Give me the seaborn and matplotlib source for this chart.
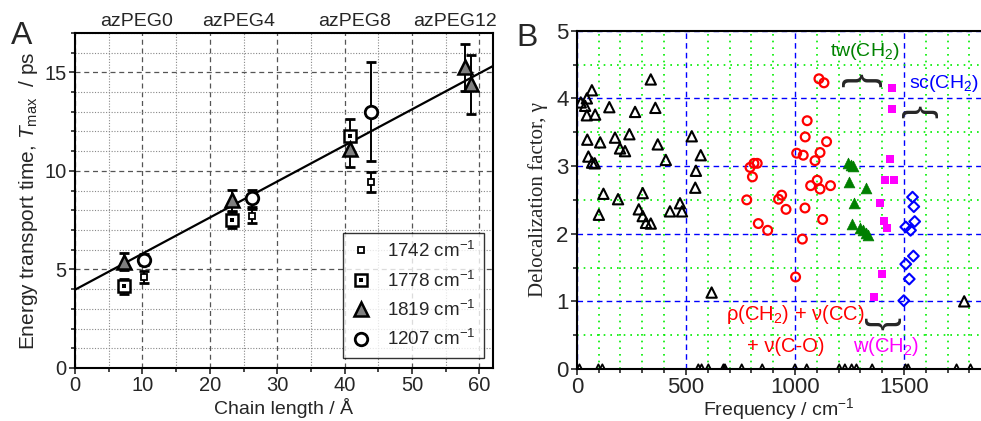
import numpy as np
import matplotlib
matplotlib.use("Agg")
import matplotlib.pyplot as plt
import seaborn as sns
from matplotlib.ticker import MultipleLocator
from matplotlib.legend_handler import HandlerTuple

sns.set_style("ticks")
plt.rcParams["font.family"] = ["Liberation Sans", "DejaVu Sans"]
plt.rcParams["mathtext.fontset"] = "custom"
plt.rcParams["mathtext.rm"] = "Liberation Sans"
plt.rcParams["mathtext.it"] = "Liberation Sans:italic"

# ---- panel A data: chain length (A), T_max (ps), error (ps)
x_1742 = [10.2, 26.3, 43.9]
y_1742 = [4.6, 7.7, 9.45]
e_1742 = [0.3, 0.37, 0.5]

x_1778 = [7.3, 23.3, 40.8]
y_1778 = [4.15, 7.5, 11.75]
e_1778 = [0.38, 0.4, 0.88]

x_1819 = [7.3, 23.3, 40.8, 57.9, 58.7]
y_1819 = [5.4, 8.5, 11.1, 15.25, 14.4]
e_1819 = [0.42, 0.55, 0.9, 1.2, 1.5]

x_1207 = [10.2, 26.3, 43.9]
y_1207 = [5.5, 8.6, 13.0]
e_1207 = [0.3, 0.45, 2.5]

fit_intercept = 3.97
fit_slope = 0.183

peg_names = ["azPEG0", "azPEG4", "azPEG8", "azPEG12"]
peg_pos = [9.1, 24.2, 41.5, 56.3]

# ---- panel B data: frequency (cm-1), delocalization factor
tri_f = [18, 38, 46, 69, 46, 84, 149, 267, 339, 360, 48, 107, 175, 241, 198,
         221, 371, 408, 53, 70, 82, 527, 568, 546, 543, 122, 189, 302, 101,
         284, 302, 317, 339, 427, 473, 482, 618, 1776]
tri_g = [3.94, 3.89, 4.00, 4.12, 3.75, 3.76, 3.87, 3.80, 4.28, 3.86, 3.39,
         3.35, 3.42, 3.47, 3.26, 3.22, 3.32, 3.09, 3.14, 3.05, 3.04, 3.44,
         3.16, 2.93, 2.68, 2.59, 2.51, 2.60, 2.28, 2.36, 2.26, 2.16, 2.15,
         2.33, 2.45, 2.33, 1.13, 1.00]

zero_f = [12, 99, 117, 557, 572, 603, 672, 679, 756, 850, 1000, 1054, 1203,
          1229, 1260, 1282, 1354, 1507, 1519, 1741, 1805]
zero_g = [0.0] * len(zero_f)

rho_f = [779, 794, 812, 827, 805, 832, 875, 925, 939, 959, 1003, 1008, 1038,
         1034, 1047, 1056, 1046, 1072, 1092, 1102, 1115, 1115, 1110, 1133,
         1145, 1127, 1163]
rho_g = [2.50, 2.98, 3.04, 3.04, 2.84, 2.15, 2.05, 2.51, 2.57, 2.36, 1.36,
         3.19, 3.16, 1.92, 3.43, 3.67, 2.38, 2.71, 3.08, 2.79, 3.20, 2.66,
         4.29, 4.23, 3.36, 2.21, 2.71]

tw_f = [1244, 1255, 1264, 1249, 1270, 1260, 1324, 1298, 1313, 1328, 1337]
tw_g = [3.04, 3.02, 3.00, 2.76, 2.46, 2.14, 2.67, 2.09, 2.05, 2.01, 1.98]

w_f = [1447, 1444, 1437, 1412, 1452, 1389, 1409, 1423, 1398, 1362]
w_g = [4.16, 3.84, 3.11, 2.79, 2.80, 2.45, 2.19, 2.08, 1.40, 1.07]

sc_f = [1499, 1508, 1524, 1543, 1508, 1530, 1549, 1539, 1545]
sc_g = [1.01, 1.55, 1.33, 1.67, 2.10, 2.05, 2.18, 2.54, 2.40]

fig = plt.figure(figsize=(9.81, 4.21), dpi=100)
axA = fig.add_axes([0.0765, 0.126, 0.426, 0.796])
axB = fig.add_axes([0.588, 0.1235, 0.412, 0.8035])

# ================= Panel A =================
xs = np.array([0.0, 62.0])
sns.lineplot(x=xs, y=fit_intercept + fit_slope * xs, color="black", lw=1.6, ax=axA, zorder=2)

eb = dict(fmt="none", ecolor="black", elinewidth=1.4, capsize=3.5, capthick=2.0, zorder=3)
axA.errorbar(x_1742, y_1742, yerr=e_1742, **eb)
axA.errorbar(x_1778, y_1778, yerr=e_1778, **eb)
axA.errorbar(x_1819, y_1819, yerr=e_1819, **eb)
axA.errorbar(x_1207, y_1207, yerr=e_1207, **eb)

h1742 = axA.plot(x_1742, y_1742, ls="none", marker="s", ms=5, mfc="white",
                 mec="black", mew=1.3, zorder=4)[0]
h1778a = axA.plot(x_1778, y_1778, ls="none", marker="s", ms=8, mfc="white",
                  mec="black", mew=1.8, zorder=4)[0]
h1778b = axA.plot(x_1778, y_1778, ls="none", marker="s", ms=2.2, mfc="black",
                  mec="black", mew=0, zorder=5)[0]
h1819 = axA.plot(x_1819, y_1819, ls="none", marker="^", ms=10, mfc="#7f7f7f",
                 mec="black", mew=1.8, zorder=4)[0]
h1207 = axA.plot(x_1207, y_1207, ls="none", marker="o", ms=9, mfc="white",
                 mec="black", mew=2.0, zorder=4)[0]

axA.set_xlim(0, 62)
axA.set_ylim(0, 17)
axA.xaxis.set_major_locator(MultipleLocator(10))
axA.xaxis.set_minor_locator(MultipleLocator(5))
axA.yaxis.set_major_locator(MultipleLocator(5))
axA.yaxis.set_minor_locator(MultipleLocator(1))
axA.grid(which="major", color="#555555", ls=(0, (4, 3)), lw=0.9)
axA.grid(which="minor", color="#888888", ls=(0, (1, 1.5)), lw=0.8)
axA.set_axisbelow(True)
axA.tick_params(which="both", direction="out", labelsize=14.5, width=1.2,
                top=False, right=False, pad=2)
axA.tick_params(which="major", length=4)
axA.tick_params(which="minor", length=3)
for s in axA.spines.values():
    s.set_linewidth(1.5)
    s.set_color("black")
    s.set_visible(True)
axA.set_xlabel("Chain length / Å", fontsize=14)
axA.xaxis.set_label_coords(0.5, -0.09)
axA.set_ylabel("Energy transport time, $T_{\\rm max}$  / ps", fontsize=15, labelpad=3)

for name, pos in zip(peg_names, peg_pos):
    axA.text(pos, 1.008, name, transform=axA.get_xaxis_transform(), ha="center",
             va="bottom", fontsize=14)

leg = axA.legend([h1742, (h1778a, h1778b), h1819, h1207],
                 ["1742 cm$^{-1}$", "1778 cm$^{-1}$", "1819 cm$^{-1}$", "1207 cm$^{-1}$"],
                 handler_map={tuple: HandlerTuple(ndivide=1, pad=0)},
                 loc="lower right", bbox_to_anchor=(0.978, 0.03), borderaxespad=0,
                 fontsize=13.5, frameon=True, fancybox=False, handlelength=1.0,
                 handletextpad=0.9, labelspacing=0.5, borderpad=0.45)
leg.get_frame().set_edgecolor("black")
leg.get_frame().set_linewidth(1.0)

fig.text(0.022, 0.915, "A", fontsize=23, ha="center", va="center")

# ================= Panel B =================
sns.scatterplot(x=tri_f, y=tri_g, marker="^", s=55, facecolor="none",
                edgecolor="black", linewidth=1.5, ax=axB, zorder=3)
sns.scatterplot(x=zero_f, y=zero_g, marker="^", s=45, facecolor="none",
                edgecolor="black", linewidth=1.3, ax=axB, zorder=3)
sns.scatterplot(x=rho_f, y=rho_g, marker="o", s=40, facecolor="none",
                edgecolor="#ff0000", linewidth=1.6, ax=axB, zorder=3)
sns.scatterplot(x=tw_f, y=tw_g, marker="^", s=60, color="#007f00",
                edgecolor="#007f00", linewidth=0.5, ax=axB, zorder=3)
sns.scatterplot(x=w_f, y=w_g, marker="s", s=28, color="#ff00ff",
                edgecolor="#ff00ff", linewidth=0, ax=axB, zorder=3)
sns.scatterplot(x=sc_f, y=sc_g, marker="D", s=30, facecolor="none",
                edgecolor="#0000ff", linewidth=1.5, ax=axB, zorder=3)

axB.set_xlim(0, 1853)
axB.set_ylim(0, 5)
axB.xaxis.set_major_locator(MultipleLocator(500))
axB.xaxis.set_minor_locator(MultipleLocator(100))
axB.yaxis.set_major_locator(MultipleLocator(1))
axB.yaxis.set_minor_locator(MultipleLocator(0.5))
axB.grid(which="minor", color="#00ee00", ls=(0, (1, 3)), lw=1.2)
axB.grid(which="major", color="#0000ff", ls=(0, (4, 3)), lw=1.0)
axB.set_axisbelow(True)
axB.tick_params(which="both", direction="out", labelsize=16, width=1.2,
                top=False, right=False)
axB.tick_params(axis="x", pad=1.5)
axB.tick_params(axis="y", pad=2)
axB.tick_params(which="major", length=4)
axB.tick_params(which="minor", length=3)
for side in ["left", "bottom", "top"]:
    axB.spines[side].set_linewidth(1.5)
    axB.spines[side].set_color("black")
    axB.spines[side].set_visible(True)
axB.spines["right"].set_visible(False)
axB.set_xlabel("Frequency / cm$^{-1}$", fontsize=14)
axB.xaxis.set_label_coords(0.5, -0.08)
axB.set_ylabel("Delocalization factor, γ", fontsize=15, labelpad=6,
               family=["Liberation Serif", "DejaVu Serif"])

axB.text(1321, 4.69, "tw(CH$_2$)", color="#008000", fontsize=14, ha="center", va="center")
axB.text(1524, 4.22, "sc(CH$_2$)", color="#0000ff", fontsize=14, ha="left", va="center")
axB.text(1000, 0.80, "ρ(CH$_2$) + ν(CC)", color="#ff0000", fontsize=14.5, ha="center", va="center")
axB.text(959, 0.33, "+ ν(C-O)", color="#ff0000", fontsize=14.5, ha="center", va="center")
axB.text(1417, 0.33, "w(CH$_2$)", color="#ff00ff", fontsize=14.5, ha="center", va="center")

# curly braces
axB.text(1299, 4.27, "{", rotation=-90, fontsize=30, ha="center", va="center")
axB.text(1566, 3.80, "{", rotation=-90, fontsize=28, ha="center", va="center")
axB.text(1407, 0.67, "{", rotation=90, fontsize=28, ha="center", va="center")

fig.text(0.537, 0.91, "B", fontsize=23, ha="center", va="center")

fig.savefig("out.png", dpi=100)
